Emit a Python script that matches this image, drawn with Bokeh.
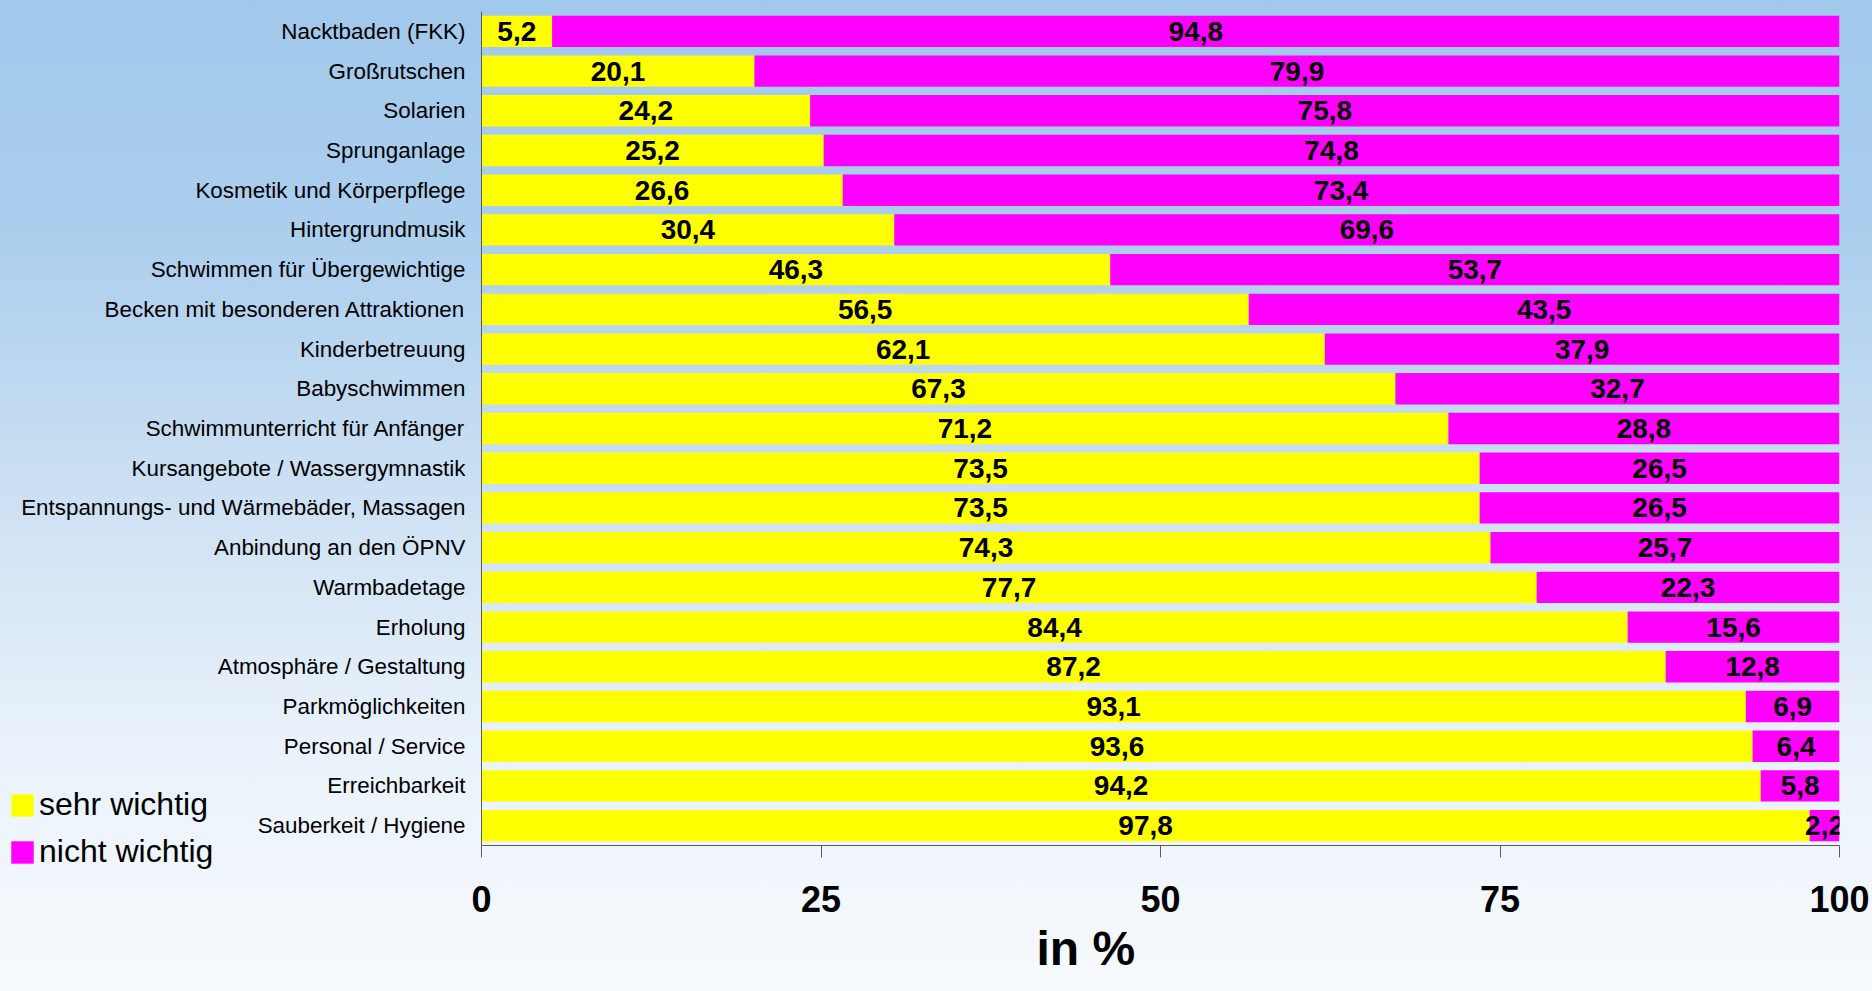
from bokeh.plotting import figure
from bokeh.layouts import column
from bokeh.models import (ColumnDataSource, FactorRange, Range1d, Legend, LegendItem,
                          FixedTicker, GlobalInlineStyleSheet, Title)
from bokeh.core.properties import value
from bokeh.embed import file_html
from bokeh.resources import INLINE

# ---------------- data (top to bottom as in the chart) ----------------
categories = [
    "Nacktbaden (FKK)", "Großrutschen", "Solarien", "Sprunganlage",
    "Kosmetik und Körperpflege", "Hintergrundmusik", "Schwimmen für Übergewichtige",
    "Becken mit besonderen Attraktionen", "Kinderbetreuung", "Babyschwimmen",
    "Schwimmunterricht für Anfänger", "Kursangebote / Wassergymnastik",
    "Entspannungs- und Wärmebäder, Massagen", "Anbindung an den ÖPNV",
    "Warmbadetage", "Erholung", "Atmosphäre / Gestaltung", "Parkmöglichkeiten",
    "Personal / Service", "Erreichbarkeit", "Sauberkeit / Hygiene",
]
sehr_wichtig = [5.2, 20.1, 24.2, 25.2, 26.6, 30.4, 46.3, 56.5, 62.1, 67.3, 71.2,
                73.5, 73.5, 74.3, 77.7, 84.4, 87.2, 93.1, 93.6, 94.2, 97.8]
nicht_wichtig = [94.8, 79.9, 75.8, 74.8, 73.4, 69.6, 53.7, 43.5, 37.9, 32.7, 28.8,
                 26.5, 26.5, 25.7, 22.3, 15.6, 12.8, 6.9, 6.4, 5.8, 2.2]
series_names = ["sehr wichtig", "nicht wichtig"]
x_ticks = [0, 25, 50, 75, 100]
x_title = "in %"

FONT = "Liberation Sans"
YELLOW = "#FFFF00"
MAGENTA = "#FF00FF"
COLORS = [YELLOW, MAGENTA]


def fmt(v):
    return f"{v:.1f}".replace(".", ",")


src = ColumnDataSource(dict(
    cat=categories,
    sehr=sehr_wichtig,
    nicht=nicht_wichtig,
    sehr_mid=[s / 2 for s in sehr_wichtig],
    nicht_mid=[s + n / 2 for s, n in zip(sehr_wichtig, nicht_wichtig)],
    sehr_lbl=[fmt(s) for s in sehr_wichtig],
    nicht_lbl=[fmt(n) for n in nicht_wichtig],
))

W, H = 1872, 991
FRAME_LEFT = 481
p = figure(width=W, height=H,
           y_range=FactorRange(factors=list(reversed(categories))),
           x_range=Range1d(0, 100),
           output_backend="svg", toolbar_location=None,
           min_border_left=FRAME_LEFT, min_border_right=33,
           min_border_top=11, min_border_bottom=146)

grad = ("linear-gradient(to bottom, #A0C8EB 0px, #ADCFEE 250px, #CCE0F3 490px, "
        "#E8F1FA 730px, #F7FAFD 991px)")
p.styles = {"background": grad}
p.stylesheets = [GlobalInlineStyleSheet(
    css="html{min-height:100%;background:" + grad + " no-repeat;} body{background:transparent;}")]
p.background_fill_alpha = 0
p.border_fill_alpha = 0
p.outline_line_color = None
p.xgrid.visible = False
p.ygrid.visible = False

renderers = p.hbar_stack(["sehr", "nicht"], y="cat", height=0.79,
                         color=COLORS, line_color=None, source=src)

label_style = dict(text_align="center", text_baseline="middle",
                   text_font=value(FONT), text_font_style="bold",
                   text_font_size="28px", text_color="black")
p.text(x="sehr_mid", y="cat", text="sehr_lbl", source=src, **label_style)
p.text(x="nicht_mid", y="cat", text="nicht_lbl", source=src, **label_style)

# axes
AX = "#5A5A5A"
xa = p.xaxis[0]
xa.ticker = FixedTicker(ticks=x_ticks)
xa.major_label_text_font = FONT
xa.major_label_text_font_style = "bold"
xa.major_label_text_font_size = "36px"
xa.major_label_text_color = "black"
xa.major_tick_out = 12
xa.major_tick_in = 0
xa.minor_tick_line_color = None
xa.axis_line_color = AX
xa.major_tick_line_color = AX
xa.major_label_standoff = 28

ya = p.yaxis[0]
ya.major_label_text_font = FONT
ya.major_label_text_font_size = "22.4px"
ya.major_label_text_color = "black"
ya.major_tick_line_color = None
ya.minor_tick_line_color = None
ya.axis_line_color = AX
ya.major_label_standoff = 10

# x axis title, placed under the tick labels
p.add_layout(Title(text=x_title, align="left", offset=1036 - FRAME_LEFT, standoff=10,
                   text_font=FONT, text_font_style="bold", text_font_size="48px",
                   text_color="black"), "below")

# ------- legend: small transparent figure laid over the lower left corner -------
OX, OY = 8, 786
OW, OH = 240, 92
ov = figure(width=OW, height=OH, output_backend="svg", toolbar_location=None,
            x_range=Range1d(0, 100),
            y_range=FactorRange(factors=list(reversed(categories))),
            x_axis_location=None, y_axis_location=None,
            min_border=0, margin=(OY - H, 0, 0, OX))
ov.background_fill_alpha = 0
ov.border_fill_alpha = 0
ov.outline_line_color = None
ov.xgrid.visible = False
ov.ygrid.visible = False
leg_r = ov.hbar_stack(["sehr", "nicht"], y="cat", height=0.79,
                      color=COLORS, line_color=None, source=src)
for r in leg_r:
    r.visible = False

legend = Legend(items=[LegendItem(label=series_names[0], renderers=[leg_r[0]]),
                       LegendItem(label=series_names[1], renderers=[leg_r[1]])],
                location="top_left",
                glyph_width=28, glyph_height=28, label_height=28, label_standoff=3,
                spacing=10, padding=0, margin=0,
                label_text_font=FONT, label_text_font_size="32px",
                label_text_color="black", inactive_fill_alpha=0,
                border_line_alpha=0, background_fill_alpha=0)
ov.add_layout(legend)

layout = column(p, ov, spacing=0)
open("out.html", "w").write(file_html(layout, INLINE))
